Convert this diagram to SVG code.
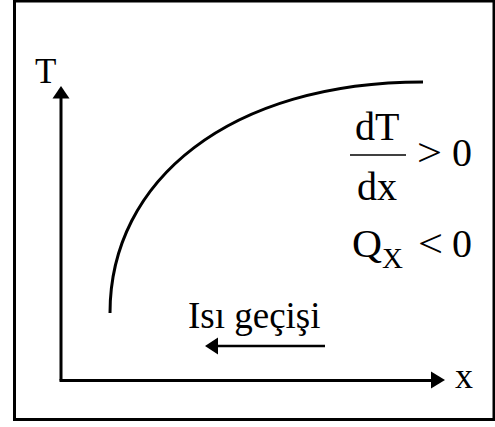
<svg xmlns="http://www.w3.org/2000/svg" width="495" height="427" viewBox="0 0 495 427">
<style>
.t{font-family:"Liberation Serif","Times New Roman",serif;fill:#000}
.f{font-size:40px}
.ln{stroke:#000;stroke-width:3;fill:none}
</style>
<rect width="495" height="427" fill="#fff"/>
<rect x="14.5" y="1" width="479.5" height="418.5" fill="none" stroke="#000" stroke-width="3"/>
<g id="connectors">
<path class="ln" d="M61,380.5 V97"/>
<polygon points="61,86 52.5,98.5 69.5,98.5" fill="#000"/>
<path class="ln" d="M59.5,380.5 H432"/>
<polygon points="445,380 431,371.5 431,388.5" fill="#000"/>
<path class="ln" d="M110,313 C110,180 230,82 423,82"/>
<path stroke="#000" stroke-width="2.5" fill="none" d="M325,346 H215"/>
<polygon points="205,346 218,337.5 218,354.5" fill="#000"/>
</g>
<g id="axis-labels">
<text class="t" x="35" y="83" font-size="35">T</text>
<text class="t" x="455" y="388" font-size="36">x</text>
</g>
<g id="formula">
<text class="t f" x="355" y="140">dT</text>
<line x1="350" y1="155" x2="406" y2="155" stroke="#000" stroke-width="1.5"/>
<text class="t f" x="357" y="200">dx</text>
<text class="t f" x="417" y="166" textLength="25" lengthAdjust="spacingAndGlyphs">&gt;</text>
<text class="t f" x="452" y="166">0</text>
<text class="t f" x="352" y="257" textLength="30" lengthAdjust="spacingAndGlyphs">Q</text>
<text class="t" x="382" y="268" font-size="29">X</text>
<text class="t f" x="418" y="257" textLength="25" lengthAdjust="spacingAndGlyphs">&lt;</text>
<text class="t f" x="452" y="257">0</text>
</g>
<g id="heat-label">
<text class="t" x="188" y="328" font-size="37">Isı geçişi</text>
</g>
</svg>
